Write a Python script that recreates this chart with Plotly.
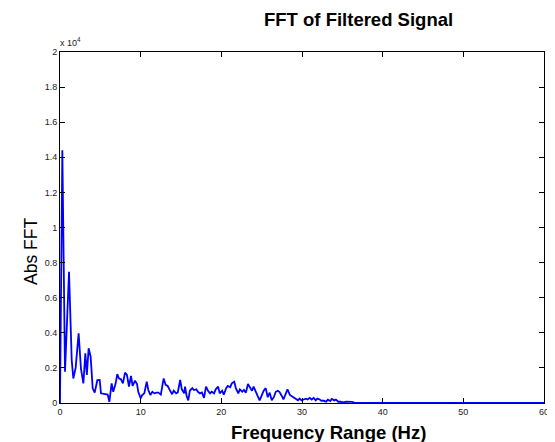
import plotly.graph_objects as go

# Frequency (Hz) and |FFT| values
freq_hz = [0.0, 0.29, 0.62, 1.12, 1.45, 1.65, 1.94, 2.31, 2.6, 2.9, 3.14, 3.33, 3.55, 3.8, 4.05, 4.3,
           4.63, 4.92, 5.08, 5.58, 5.91, 6.12, 6.4, 6.6, 6.9, 7.1, 7.3, 7.56, 7.8, 8.06, 8.3, 8.55,
           8.8, 9.0, 9.3, 9.55, 9.7, 10.0, 10.2, 10.45, 10.75, 10.95, 11.2, 11.45, 11.7, 11.95, 12.2,
           12.5, 12.85, 13.1, 13.35, 13.6, 13.9, 14.1, 14.4, 14.6, 14.9, 15.1, 15.4, 15.5, 15.7, 15.9,
           16.1, 16.4, 16.6, 16.9, 17.1, 17.35, 17.6, 17.85, 18.1, 18.35, 18.6, 18.8, 19.1, 19.3, 19.6,
           19.8, 20.1, 20.3, 20.6, 20.8, 21.1, 21.3, 21.6, 21.8, 22.1, 22.3, 22.6, 22.8, 23.05, 23.3,
           23.55, 23.8, 24.0, 24.3, 24.5, 24.75, 25.0, 25.25, 25.5, 25.75, 26.0, 26.25, 26.5, 26.75,
           27.0, 27.2, 27.5, 27.7, 28.0, 28.2, 28.5, 28.7, 28.97, 29.2, 29.5, 29.7, 29.96, 30.2, 30.5,
           30.7, 30.95, 31.2, 31.45, 31.7, 31.9, 32.2, 32.4, 32.6, 33.0, 33.2, 33.5, 33.7, 34.0, 34.2,
           34.5, 34.8, 35.1, 35.5, 35.9, 36.2, 36.5, 40.0, 50.0, 60.0]
abs_fft = [0, 14400, 1780, 7480, 2450, 1400, 2000, 3970, 1950, 1120, 2830, 1600, 3120, 2640, 840, 590,
           1300, 1310, 550, 510, 480, 70, 1120, 640, 1120, 1650, 1400, 1350, 1120, 1730, 1600, 930,
           1540, 970, 1270, 1080, 640, 270, 460, 550, 1210, 740, 460, 640, 550, 590, 590,
           480, 1400, 1030, 970, 750, 500, 700, 550, 600, 1310, 780, 550, 930, 400, 150,
           700, 850, 740, 780, 640, 550, 600, 290, 930, 700, 550, 640, 550, 780, 930,
           550, 700, 480, 850, 970, 900, 1120, 1210, 850, 550, 780, 640, 740, 590, 1080,
           850, 700, 930, 550, 400, 150, 460, 700, 850, 330, 590, 150, 330, 640,
           700, 640, 400, 200, 550, 780, 460, 400, 290, 200, 150, 250, 150, 200, 250,
           200, 290, 200, 290, 150, 250, 200, 120, 140, 80, 190, 110, 230, 150, 190,
           70, 70, 40, 70, 80, 60, 20, 10, 5, 5]

x_ticks = [0, 10, 20, 30, 40, 50, 60]
y_ticks = [0, 2000, 4000, 6000, 8000, 10000, 12000, 14000, 16000, 18000, 20000]
y_ticklabels = ["0", "0.2", "0.4", "0.6", "0.8", "1", "1.2", "1.4", "1.6", "1.8", "2"]

FONT = "Liberation Sans, Arial, Helvetica, sans-serif"

# the page body has an 8px margin, so the figure is 8px smaller and shifted
OFF = 8
W, H = 555 - OFF, 442 - OFF
ML, MR, MT, MB = 60 - OFF, 11, 52 - OFF, 39
PW, PH = W - ML - MR, H - MT - MB


def px_x(x):
    return (x - OFF - ML) / PW


def px_y(y_from_top):
    return (H - (y_from_top - OFF) - MB) / PH


fig = go.Figure()
fig.add_trace(go.Scatter(x=freq_hz, y=abs_fft, mode="lines",
                         line=dict(color="#0000FF", width=1.8), showlegend=False))

axis_common = dict(showline=True, linecolor="black", linewidth=1, mirror="ticks",
                   ticks="inside", ticklen=5, tickcolor="black", tickwidth=1,
                   showgrid=False, zeroline=False, automargin=False,
                   tickfont=dict(family=FONT, size=9, color="#222"))

fig.update_layout(
    template="none",
    width=W, height=H, autosize=False,
    margin=dict(l=ML, r=MR, t=MT, b=MB, pad=0),
    paper_bgcolor="white", plot_bgcolor="white",
    xaxis=dict(range=[0, 60], tickvals=x_ticks, ticktext=[str(v) for v in x_ticks], **axis_common),
    yaxis=dict(range=[0, 20000], tickvals=y_ticks, ticktext=y_ticklabels, **axis_common),
    annotations=[
        dict(text="<b>FFT of Filtered Signal</b>", x=px_x(358), y=px_y(20), xref="paper", yref="paper",
             showarrow=False, font=dict(family=FONT, size=18.5, color="black"),
             xanchor="center", yanchor="middle"),
        dict(text="<b>Frequency Range (Hz)</b>", x=px_x(328), y=px_y(432), xref="paper", yref="paper",
             showarrow=False, font=dict(family=FONT, size=18.5, color="black"),
             xanchor="center", yanchor="middle"),
        dict(text="Abs FFT", x=px_x(31), y=px_y(252), xref="paper", yref="paper", textangle=-90,
             showarrow=False, font=dict(family=FONT, size=17.5, color="black"),
             xanchor="center", yanchor="middle"),
        dict(text="x 10<sup>4</sup>", x=px_x(58), y=px_y(42), xref="paper", yref="paper",
             showarrow=False, font=dict(family=FONT, size=9, color="#222"),
             xanchor="left", yanchor="middle"),
    ],
)

fig.write_html("out.html")
